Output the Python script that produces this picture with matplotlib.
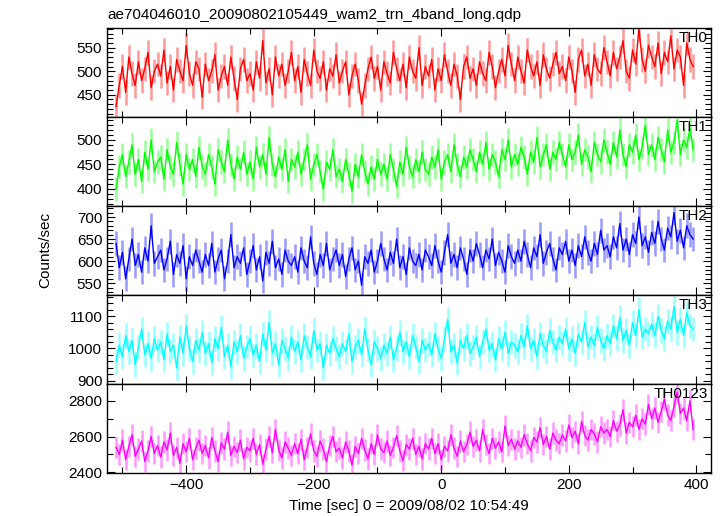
import matplotlib
matplotlib.use("Agg")
import matplotlib.pyplot as plt
import numpy as np
from matplotlib.ticker import MultipleLocator

plt.rcParams['font.family'] = ['Liberation Sans', 'DejaVu Sans']

# time bins (sec from 2009/08/02 10:54:49)
t = np.arange(-510, 400, 5)

th0 = [425, 470, 510, 455, 530, 495, 470, 520, 480, 505, 540, 465, 500, 515,
       490, 545, 475, 510, 460, 525, 500, 480, 555, 495, 470, 520, 505, 445,
       515, 480, 500, 535, 460, 490, 510, 470, 530, 485, 440, 505, 525, 480,
       495, 460, 520, 485, 565, 475, 505, 450, 530, 490, 515, 470, 500, 540,
       480, 510, 455, 525, 495, 470, 545, 500, 485, 520, 460, 505, 490, 535,
       475, 500, 520, 450, 490, 515, 480, 430, 470, 505, 530, 485, 510, 460,
       520, 495, 475, 540, 505, 480, 515, 465, 530, 500, 485, 550, 470, 510,
       490, 525, 460, 505, 480, 535, 500, 470, 515, 490, 440, 510, 530, 485,
       505, 470, 520, 495, 480, 540, 510, 465, 500, 525, 490, 555, 515, 480,
       530, 500, 475, 545, 510, 490, 520, 470, 535, 505, 485, 515, 540, 495,
       510, 480, 530, 500, 455, 525, 545, 490, 515, 470, 535, 505, 495, 550,
       520, 490, 540, 505, 530, 565, 500, 485, 545, 515, 590, 525, 500, 555,
       530, 510, 560, 495, 540, 520, 575, 505, 545, 530, 470, 560, 525, 510]

th1 = [400, 445, 470, 425, 455, 490, 430, 460, 415, 475, 440, 500, 435, 455,
       465, 420, 480, 445, 430, 495, 450, 410, 470, 440, 460, 425, 485, 445,
       430, 470, 445, 410, 480, 455, 435, 500, 450, 420, 465, 440, 475, 430,
       455, 420, 485, 445, 470, 430, 505, 450, 425, 465, 440, 480, 415, 460,
       445, 475, 430, 460, 490, 420, 450, 470, 435, 400, 455, 440, 480, 425,
       440, 415, 460, 430, 395, 450, 425, 470, 435, 410, 445, 420, 460, 430,
       450, 420, 470, 440, 405, 455, 430, 485, 445, 425, 460, 435, 475, 440,
       430, 465, 445, 480, 420, 455, 470, 435, 490, 450, 425, 465, 445, 480,
       460, 435, 475, 450, 495, 440, 470, 455, 425, 480, 460, 500, 445, 470,
       450, 485, 465, 430, 475, 455, 505, 445, 470, 490, 440, 475, 460, 495,
       470, 445, 490, 460, 475, 510, 450, 480, 465, 435, 495, 470, 455, 500,
       475, 450, 495, 465, 520, 470, 445, 490, 475, 510, 460, 485, 530, 470,
       490, 460, 505, 480, 455, 520, 475, 495, 540, 470, 500, 485, 525, 480]

th2 = [640, 585, 620, 560, 605, 650, 590, 615, 575, 630, 600, 680, 595, 610,
       625, 580, 605, 645, 570, 615, 595, 635, 560, 610, 590, 625, 600, 575,
       615, 590, 640, 575, 605, 625, 560, 600, 660, 585, 610, 595, 630, 570,
       600, 635, 580, 610, 555, 620, 595, 645, 585, 605, 570, 625, 600, 590,
       610, 575, 630, 600, 585, 655, 595, 570, 615, 590, 640, 580, 605, 625,
       590, 615, 565, 605, 630, 580, 600, 545, 610, 595, 625, 575, 600, 640,
       605, 580, 620, 595, 650, 585, 610, 570, 630, 600, 590, 615, 580, 625,
       610, 590, 635, 600, 575, 620, 660, 595, 615, 585, 630, 605, 570, 625,
       600, 640, 615, 585, 625, 605, 650, 590, 620, 600, 575, 635, 610, 595,
       625, 600, 645, 615, 585, 630, 610, 660, 595, 620, 640, 605, 580, 630,
       615, 645, 600, 625, 590, 635, 610, 655, 620, 600, 640, 615, 670, 625,
       635, 610, 655, 630, 685, 625, 650, 615, 660, 640, 700, 635, 655, 620,
       665, 640, 690, 650, 625, 675, 655, 710, 645, 670, 630, 680, 660, 650]

th3 = [960, 1010, 975, 1040, 990, 1025, 950, 1005, 1060, 980, 1015, 970, 1030, 995,
       1020, 965, 1045, 990, 1010, 940, 1035, 985, 1070, 1000, 960, 1025, 995, 1050,
       985, 1015, 955, 1030, 1000, 1065, 975, 1010, 945, 1020, 990, 1040, 970, 1005,
       1030, 980, 1010, 960, 1045, 995, 1080, 985, 1015, 950, 1025, 1000, 970, 1035,
       990, 1020, 965, 1040, 1005, 975, 1055, 995, 1015, 940, 1010, 985, 1030, 1000,
       975, 1015, 990, 1045, 960, 1005, 1025, 980, 1060, 995, 950, 1020, 1000, 970,
       1010, 985, 1035, 965, 1000, 1050, 990, 1020, 975, 1040, 1005, 960, 1025, 995,
       1015, 980, 1045, 1000, 970, 1030, 1090, 990, 1010, 955, 1025, 1000, 1040, 985,
       1005, 1035, 975, 1020, 1060, 995, 1015, 965, 1030, 1000, 1050, 985, 1020, 1010,
       990, 1040, 1005, 1070, 1000, 1025, 975, 1045, 1010, 990, 1055, 1020, 995, 1035,
       1015, 1060, 1000, 1030, 985, 1045, 1020, 1080, 1005, 1035, 1010, 1065, 1025, 1000,
       1040, 1015, 1070, 1030, 1095, 1025, 1055, 1010, 1080, 1040, 1120, 1035, 1060, 1045,
       1075, 1040, 1100, 1055, 1030, 1085, 1060, 1130, 1050, 1090, 1040, 1110, 1070, 1060]

th0123 = [2540, 2500, 2580, 2470, 2545, 2610, 2490, 2530, 2575, 2460, 2520, 2600, 2505, 2550,
          2485, 2570, 2525, 2620, 2495, 2540, 2450, 2560, 2515, 2590, 2470, 2535, 2580, 2505,
          2550, 2480, 2595, 2520, 2460, 2565, 2530, 2625, 2495, 2545, 2510, 2580, 2475, 2540,
          2520, 2590, 2500, 2555, 2445, 2530, 2600, 2510, 2640, 2525, 2480, 2570, 2535, 2495,
          2560, 2505, 2585, 2470, 2540, 2615, 2520, 2490, 2575, 2530, 2460, 2550, 2600, 2515,
          2535, 2480, 2570, 2520, 2440, 2545, 2505, 2590, 2525, 2475, 2560, 2500, 2610, 2530,
          2510, 2575, 2495, 2540, 2605, 2520, 2465, 2555, 2530, 2590, 2500, 2545, 2475, 2560,
          2530, 2590, 2505, 2560, 2470, 2545, 2520, 2610, 2535, 2490, 2575, 2515, 2555, 2625,
          2545, 2580, 2520, 2640, 2555, 2505, 2590, 2535, 2570, 2515, 2660, 2550, 2585, 2530,
          2575, 2540, 2610, 2560, 2520, 2595, 2570, 2650, 2555, 2600, 2530, 2620, 2580, 2560,
          2610, 2575, 2665, 2595, 2630, 2560, 2685, 2605, 2580, 2640, 2615, 2570, 2655, 2620,
          2640, 2600, 2690, 2630, 2665, 2750, 2620, 2680, 2655, 2720, 2640, 2700, 2670, 2780,
          2700, 2760, 2680, 2740, 2810, 2720, 2690, 2770, 2850, 2730, 2760, 2690, 2800, 2640]

names = ["TH0", "TH1", "TH2", "TH3", "TH0123"]
series = [th0, th1, th2, th3, th0123]
errs = [26, 24, 28, 38, 60]
colors = ['#ff0000', '#00ff00', '#0000ff', '#00ffff', '#ff00ff']
ylims = [(403, 592), (365, 547), (523, 725), (890, 1165), (2395, 2894)]
majors = [50, 50, 50, 100, 200]
minors = [10, 10, 10, 20, 100]

fig, axes = plt.subplots(5, 1, sharex=True, figsize=(7.24, 5.16), dpi=100)
fig.subplots_adjust(left=0.148, right=0.982, top=0.946, bottom=0.083, hspace=0)

for i, ax in enumerate(axes):
    y = np.array(series[i], dtype=float)
    ax.vlines(t, y - errs[i], y + errs[i], color=colors[i], alpha=0.4, lw=1.8)
    ax.plot(t, y, color=colors[i], lw=1.0)
    ax.set_ylim(ylims[i])
    ax.yaxis.set_major_locator(MultipleLocator(majors[i]))
    ax.yaxis.set_minor_locator(MultipleLocator(minors[i]))
    ax.xaxis.set_major_locator(MultipleLocator(200))
    ax.xaxis.set_minor_locator(MultipleLocator(100))
    ax.tick_params(which='both', direction='in', top=True, right=True,
                   labelsize=11, width=0.8)
    ax.tick_params(which='major', length=6)
    ax.tick_params(which='minor', length=4)
    ax.text(0.995, 0.97, names[i], transform=ax.transAxes, ha='right', va='top',
            fontsize=11)
    for s in ax.spines.values():
        s.set_linewidth(1.0)

axes[-1].set_xlim(-524, 423)
axes[-1].set_xlabel("Time [sec] 0 = 2009/08/02 10:54:49", fontsize=11, labelpad=5)
fig.text(0.062, 0.515, "Counts/sec", rotation=90, ha='center', va='center', fontsize=11)
fig.text(0.148, 0.958, "ae704046010_20090802105449_wam2_trn_4band_long.qdp",
         ha='left', va='bottom', fontsize=11)

fig.savefig("out.png", dpi=100)
